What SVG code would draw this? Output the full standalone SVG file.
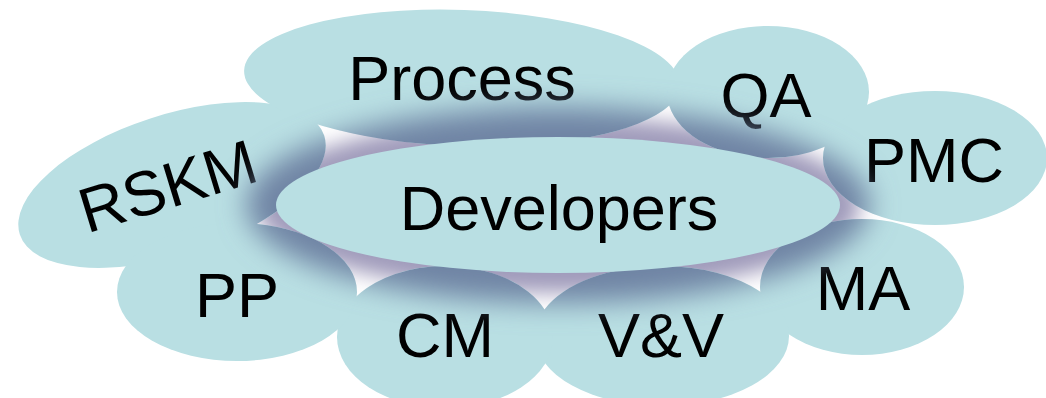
<svg xmlns="http://www.w3.org/2000/svg" xmlns:xlink="http://www.w3.org/1999/xlink" width="1046" height="398" viewBox="0 0 1046 398">
  <style>
    .bub { fill: #b9dfe3; }
    .lbl { font-family: "Liberation Sans", Arial, sans-serif; font-size: 63px; fill: #000; text-anchor: middle; }
  </style>
  <defs>
    <filter id="softLav" x="-20%" y="-60%" width="140%" height="220%">
      <feGaussianBlur stdDeviation="10"/>
    </filter>
    <filter id="softGlow" x="-20%" y="-60%" width="140%" height="220%">
      <feGaussianBlur stdDeviation="14"/>
    </filter>
    <clipPath id="outerClip">
      <use xlink:href="#e-rskm"/>
      <use xlink:href="#e-process"/>
      <use xlink:href="#e-qa"/>
      <use xlink:href="#e-pmc"/>
      <use xlink:href="#e-ma"/>
      <use xlink:href="#e-vv"/>
      <use xlink:href="#e-cm"/>
      <use xlink:href="#e-pp"/>
    </clipPath>
  </defs>

  <rect width="1046" height="398" fill="#ffffff"/>

  <g id="backdrop">
    <ellipse cx="558" cy="205" rx="302" ry="88" fill="#a09bbb" filter="url(#softLav)"/>
  </g>

  <g id="node-rskm">
    <ellipse id="e-rskm" class="bub" cx="172" cy="185" rx="160" ry="70" transform="rotate(-18 172 185)"/>
    <text class="lbl" transform="translate(174 207) rotate(-17)">RSKM</text>
  </g>
  <g id="node-process">
    <ellipse id="e-process" class="bub" cx="462" cy="78" rx="218" ry="68" transform="rotate(2 462 78)"/>
    <text class="lbl" x="462" y="100">Process</text>
  </g>
  <g id="node-qa">
    <ellipse id="e-qa" class="bub" cx="768" cy="92" rx="101" ry="66"/>
    <text class="lbl" x="766" y="117">QA</text>
  </g>
  <g id="node-pmc">
    <ellipse id="e-pmc" class="bub" cx="935" cy="158" rx="112" ry="67"/>
    <text class="lbl" x="934" y="182">PMC</text>
  </g>
  <g id="node-ma">
    <ellipse id="e-ma" class="bub" cx="862" cy="287" rx="102" ry="68"/>
    <text class="lbl" x="863" y="310">MA</text>
  </g>
  <g id="node-vv">
    <ellipse id="e-vv" class="bub" cx="662" cy="336" rx="127" ry="70"/>
    <text class="lbl" x="661" y="357">V&amp;V</text>
  </g>
  <g id="node-cm">
    <ellipse id="e-cm" class="bub" cx="445" cy="337" rx="108" ry="71"/>
    <text class="lbl" x="445" y="357">CM</text>
  </g>
  <g id="node-pp">
    <ellipse id="e-pp" class="bub" cx="237" cy="292" rx="120" ry="69"/>
    <text class="lbl" x="237" y="317">PP</text>
  </g>

  <g id="node-developers">
    <g clip-path="url(#outerClip)">
      <ellipse cx="558" cy="205" rx="312" ry="98" fill="#7084a4" filter="url(#softGlow)"/>
    </g>
    <ellipse class="bub" cx="558" cy="205" rx="282" ry="68"/>
    <text class="lbl" x="559" y="230">Developers</text>
  </g>
</svg>
